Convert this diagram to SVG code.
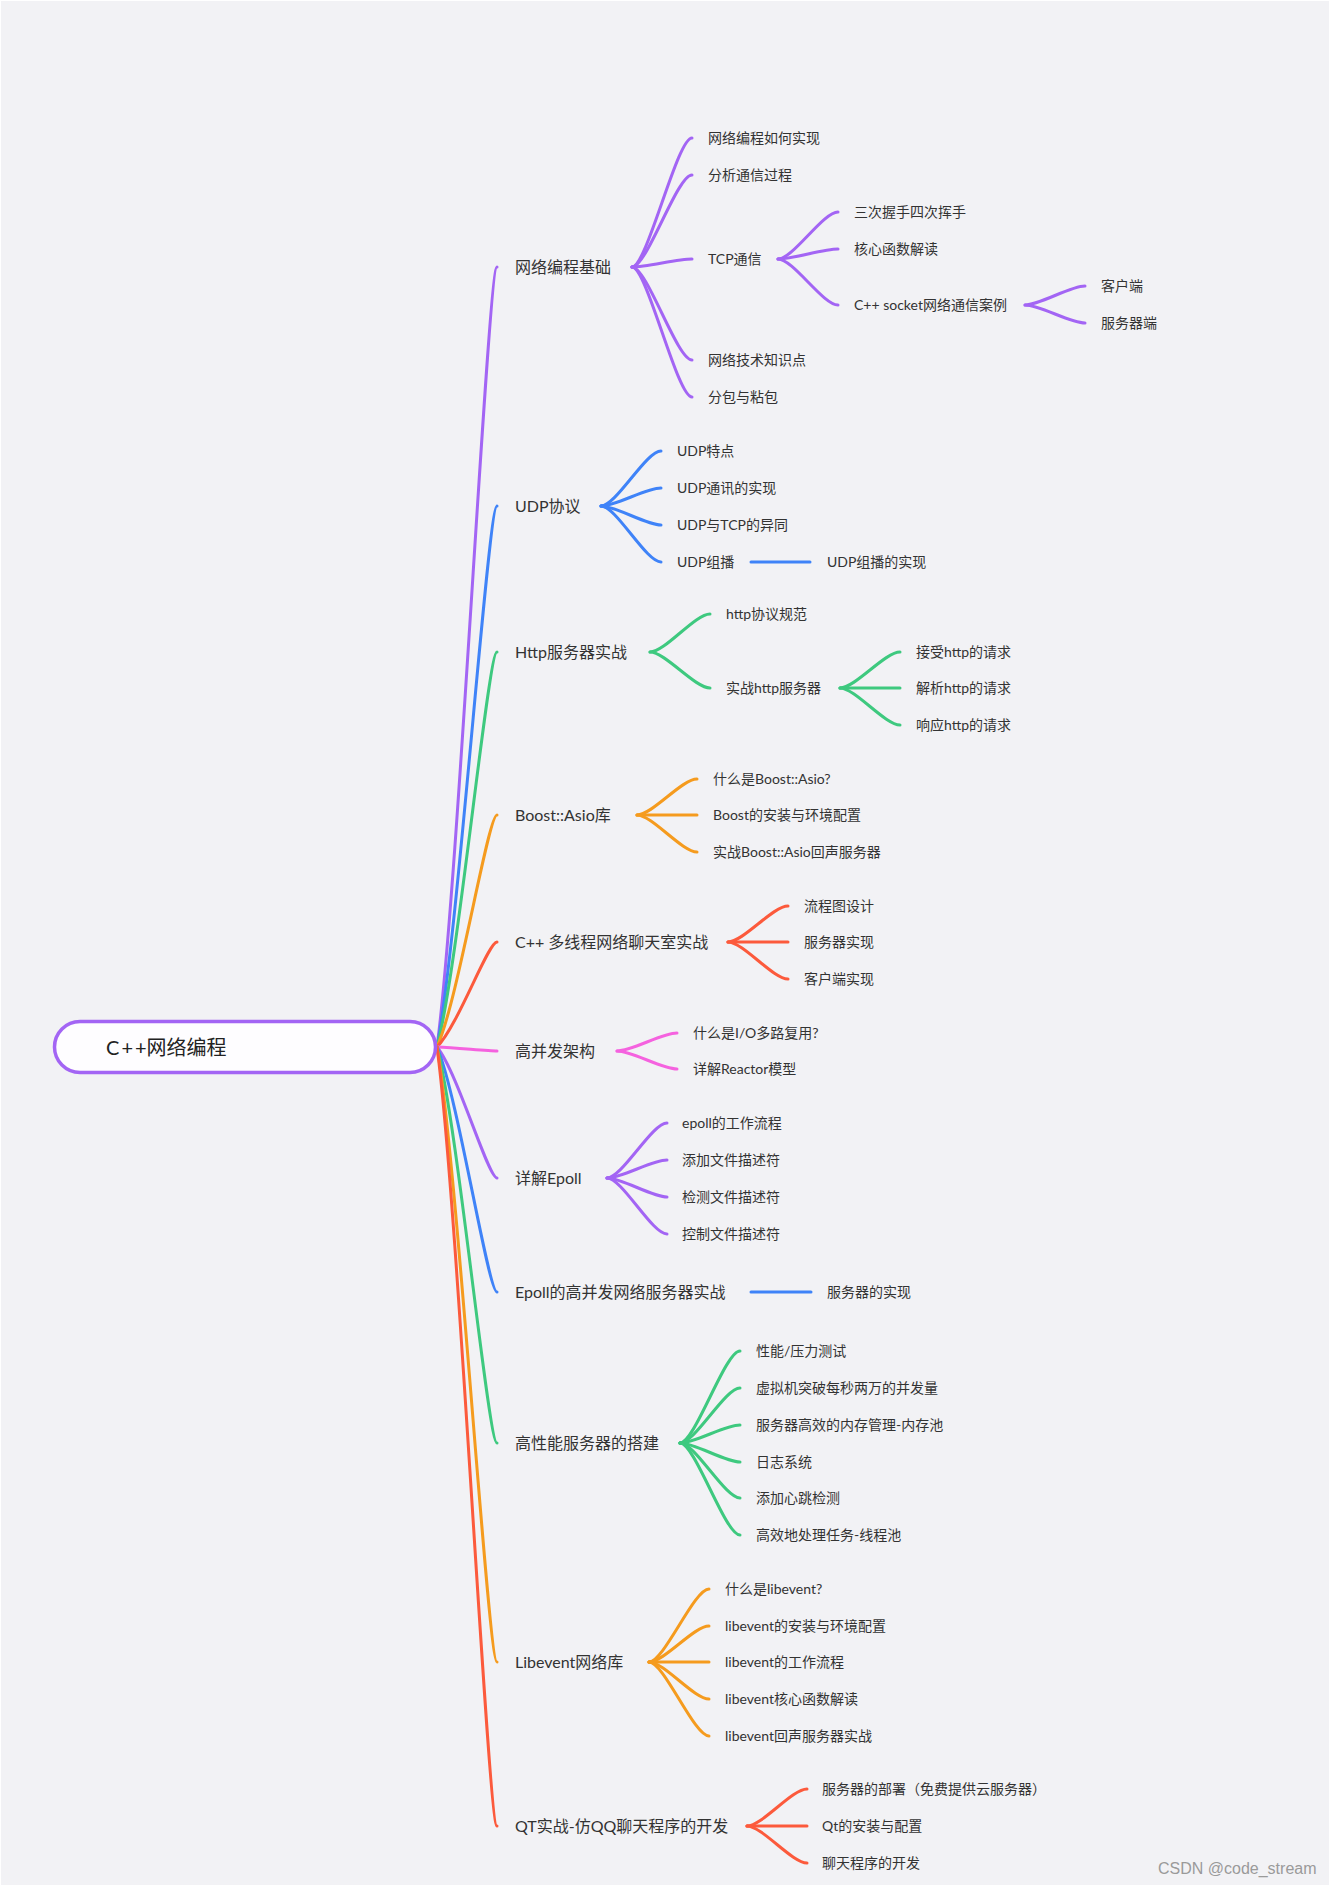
<svg xmlns="http://www.w3.org/2000/svg" width="1330" height="1887" viewBox="0 0 1330 1887">
<style>
.l{fill:none;stroke-width:3;stroke-linecap:round;stroke-linejoin:round}
.cp{stroke:#a365f4}.cb{stroke:#3f83f8}.cg{stroke:#3ec97f}.co{stroke:#f59b1e}.cr{stroke:#fc5a3c}.ck{stroke:#f562df}
text{font-family:Lato,"Noto Sans CJK SC",sans-serif;fill:#333}
.t1{font-size:16px}
.t2{font-size:14px}
.root{font-size:20px;fill:#222}
.wm{font-family:"Liberation Sans",Arial,sans-serif;font-size:16px;fill:#9a9a9a}
</style>
<rect x="0" y="0" width="1330" height="1887" fill="#ffffff"/>
<rect x="1" y="1" width="1328" height="1884" fill="#f2f2f5"/>

<g id="connectors">
  <g id="main-branches">
    <path class="l cp" d="M437,1047 C458,891 488,267 497,267"/>
    <path class="l cb" d="M437,1047 C458,939 488,506 497,506"/>
    <path class="l cg" d="M437,1047 C458,968 488,652 497,652"/>
    <path class="l co" d="M437,1047 C458,1001 488,815 497,815"/>
    <path class="l cr" d="M437,1047 C458,1026 488,942 497,942"/>
    <path class="l ck" d="M437,1047 C458,1048 488,1051 497,1051"/>
    <path class="l cp" d="M437,1047 C458,1073 488,1178 497,1178"/>
    <path class="l cb" d="M437,1047 C458,1096 488,1292 497,1292"/>
    <path class="l cg" d="M437,1047 C458,1126 488,1443 497,1443"/>
    <path class="l co" d="M437,1047 C458,1170 488,1662 497,1662"/>
    <path class="l cr" d="M437,1047 C458,1203 488,1826 497,1826"/>
  </g>
  <g id="sub-branches">
    <path class="l cp" d="M632,267 C647,267 677,138 692,138"/>
    <path class="l cp" d="M632,267 C647,267 677,175 692,175"/>
    <path class="l cp" d="M632,267 C647,267 677,259 692,259"/>
    <path class="l cp" d="M632,267 C647,267 677,360 692,360"/>
    <path class="l cp" d="M632,267 C647,267 677,397 692,397"/>
    <path class="l cp" d="M778,259 C793,259 823,212 838,212"/>
    <path class="l cp" d="M778,259 C793,259 823,249 838,249"/>
    <path class="l cp" d="M778,259 C793,259 823,305 838,305"/>
    <path class="l cp" d="M1025,305 C1040,305 1070,286 1085,286"/>
    <path class="l cp" d="M1025,305 C1040,305 1070,323 1085,323"/>

    <path class="l cb" d="M601,506 C616,506 646,451 661,451"/>
    <path class="l cb" d="M601,506 C616,506 646,488 661,488"/>
    <path class="l cb" d="M601,506 C616,506 646,525 661,525"/>
    <path class="l cb" d="M601,506 C616,506 646,562 661,562"/>
    <path class="l cb" d="M751,562 L810,562"/>

    <path class="l cg" d="M650,652 C665,652 695,614 710,614"/>
    <path class="l cg" d="M650,652 C665,652 695,688 710,688"/>
    <path class="l cg" d="M840,688 C855,688 885,652 900,652"/>
    <path class="l cg" d="M840,688 L900,688"/>
    <path class="l cg" d="M840,688 C855,688 885,725 900,725"/>

    <path class="l co" d="M637,815 C652,815 682,779 697,779"/>
    <path class="l co" d="M637,815 L697,815"/>
    <path class="l co" d="M637,815 C652,815 682,852 697,852"/>

    <path class="l cr" d="M728,942 C743,942 773,906 788,906"/>
    <path class="l cr" d="M728,942 L788,942"/>
    <path class="l cr" d="M728,942 C743,942 773,979 788,979"/>

    <path class="l ck" d="M617,1051 C632,1051 662,1033 677,1033"/>
    <path class="l ck" d="M617,1051 C632,1051 662,1069 677,1069"/>

    <path class="l cp" d="M607,1178 C622,1178 652,1123 667,1123"/>
    <path class="l cp" d="M607,1178 C622,1178 652,1160 667,1160"/>
    <path class="l cp" d="M607,1178 C622,1178 652,1197 667,1197"/>
    <path class="l cp" d="M607,1178 C622,1178 652,1234 667,1234"/>

    <path class="l cb" d="M751,1292 L811,1292"/>

    <path class="l cg" d="M680,1443 C695,1443 725,1351 740,1351"/>
    <path class="l cg" d="M680,1443 C695,1443 725,1388 740,1388"/>
    <path class="l cg" d="M680,1443 C695,1443 725,1425 740,1425"/>
    <path class="l cg" d="M680,1443 C695,1443 725,1462 740,1462"/>
    <path class="l cg" d="M680,1443 C695,1443 725,1498 740,1498"/>
    <path class="l cg" d="M680,1443 C695,1443 725,1535 740,1535"/>

    <path class="l co" d="M649,1662 C664,1662 694,1589 709,1589"/>
    <path class="l co" d="M649,1662 C664,1662 694,1626 709,1626"/>
    <path class="l co" d="M649,1662 L709,1662"/>
    <path class="l co" d="M649,1662 C664,1662 694,1699 709,1699"/>
    <path class="l co" d="M649,1662 C664,1662 694,1736 709,1736"/>

    <path class="l cr" d="M747,1826 C762,1826 792,1789 807,1789"/>
    <path class="l cr" d="M747,1826 L807,1826"/>
    <path class="l cr" d="M747,1826 C762,1826 792,1863 807,1863"/>
  </g>
</g>

<g id="root">
  <rect x="54.5" y="1021.5" width="381" height="51" rx="25.5" fill="#fefdff" stroke="#a365f4" stroke-width="3.5"/>
  <text class="root" x="106" y="1055">C<tspan dx="2">+</tspan><tspan dx="2">+</tspan>网络编程</text>
</g>

<g id="n-basics"><text class="t1" x="515" y="273">网络编程基础</text></g>
<g id="n-basics-1"><text class="t2" x="708" y="143">网络编程如何实现</text></g>
<g id="n-basics-2"><text class="t2" x="708" y="180">分析通信过程</text></g>
<g id="n-tcp"><text class="t2" x="708" y="264">TCP通信</text></g>
<g id="n-tcp-1"><text class="t2" x="854" y="217">三次握手四次挥手</text></g>
<g id="n-tcp-2"><text class="t2" x="854" y="254">核心函数解读</text></g>
<g id="n-socket"><text class="t2" x="854" y="310">C++ socket网络通信案例</text></g>
<g id="n-socket-1"><text class="t2" x="1101" y="291">客户端</text></g>
<g id="n-socket-2"><text class="t2" x="1101" y="328">服务器端</text></g>
<g id="n-basics-4"><text class="t2" x="708" y="365">网络技术知识点</text></g>
<g id="n-basics-5"><text class="t2" x="708" y="402">分包与粘包</text></g>

<g id="n-udp"><text class="t1" x="515" y="512">UDP协议</text></g>
<g id="n-udp-1"><text class="t2" x="677" y="456">UDP特点</text></g>
<g id="n-udp-2"><text class="t2" x="677" y="493">UDP通讯的实现</text></g>
<g id="n-udp-3"><text class="t2" x="677" y="530">UDP与TCP的异同</text></g>
<g id="n-udp-4"><text class="t2" x="677" y="567">UDP组播</text></g>
<g id="n-udp-4-1"><text class="t2" x="827" y="567">UDP组播的实现</text></g>

<g id="n-http"><text class="t1" x="515" y="658">Http服务器实战</text></g>
<g id="n-http-1"><text class="t2" x="726" y="619">http协议规范</text></g>
<g id="n-http-2"><text class="t2" x="726" y="693">实战http服务器</text></g>
<g id="n-http-2-1"><text class="t2" x="916" y="657">接受http的请求</text></g>
<g id="n-http-2-2"><text class="t2" x="916" y="693">解析http的请求</text></g>
<g id="n-http-2-3"><text class="t2" x="916" y="730">响应http的请求</text></g>

<g id="n-boost"><text class="t1" x="515" y="821">Boost::Asio库</text></g>
<g id="n-boost-1"><text class="t2" x="713" y="784">什么是Boost::Asio?</text></g>
<g id="n-boost-2"><text class="t2" x="713" y="820">Boost的安装与环境配置</text></g>
<g id="n-boost-3"><text class="t2" x="713" y="857">实战Boost::Asio回声服务器</text></g>

<g id="n-chat"><text class="t1" x="515" y="948">C++ 多线程网络聊天室实战</text></g>
<g id="n-chat-1"><text class="t2" x="804" y="911">流程图设计</text></g>
<g id="n-chat-2"><text class="t2" x="804" y="947">服务器实现</text></g>
<g id="n-chat-3"><text class="t2" x="804" y="984">客户端实现</text></g>

<g id="n-arch"><text class="t1" x="515" y="1057">高并发架构</text></g>
<g id="n-arch-1"><text class="t2" x="693" y="1038">什么是I/O多路复用?</text></g>
<g id="n-arch-2"><text class="t2" x="693" y="1074">详解Reactor模型</text></g>

<g id="n-epoll"><text class="t1" x="515" y="1184">详解Epoll</text></g>
<g id="n-epoll-1"><text class="t2" x="682" y="1128">epoll的工作流程</text></g>
<g id="n-epoll-2"><text class="t2" x="682" y="1165">添加文件描述符</text></g>
<g id="n-epoll-3"><text class="t2" x="682" y="1202">检测文件描述符</text></g>
<g id="n-epoll-4"><text class="t2" x="682" y="1239">控制文件描述符</text></g>

<g id="n-epoll-server"><text class="t1" x="515" y="1298">Epoll的高并发网络服务器实战</text></g>
<g id="n-epoll-server-1"><text class="t2" x="827" y="1297">服务器的实现</text></g>

<g id="n-perf"><text class="t1" x="515" y="1449">高性能服务器的搭建</text></g>
<g id="n-perf-1"><text class="t2" x="756" y="1356">性能/压力测试</text></g>
<g id="n-perf-2"><text class="t2" x="756" y="1393">虚拟机突破每秒两万的并发量</text></g>
<g id="n-perf-3"><text class="t2" x="756" y="1430">服务器高效的内存管理-内存池</text></g>
<g id="n-perf-4"><text class="t2" x="756" y="1467">日志系统</text></g>
<g id="n-perf-5"><text class="t2" x="756" y="1503">添加心跳检测</text></g>
<g id="n-perf-6"><text class="t2" x="756" y="1540">高效地处理任务-线程池</text></g>

<g id="n-libevent"><text class="t1" x="515" y="1668">Libevent网络库</text></g>
<g id="n-libevent-1"><text class="t2" x="725" y="1594">什么是libevent?</text></g>
<g id="n-libevent-2"><text class="t2" x="725" y="1631">libevent的安装与环境配置</text></g>
<g id="n-libevent-3"><text class="t2" x="725" y="1667">libevent的工作流程</text></g>
<g id="n-libevent-4"><text class="t2" x="725" y="1704">libevent核心函数解读</text></g>
<g id="n-libevent-5"><text class="t2" x="725" y="1741">libevent回声服务器实战</text></g>

<g id="n-qt"><text class="t1" x="515" y="1832">QT实战-仿QQ聊天程序的开发</text></g>
<g id="n-qt-1"><text class="t2" x="822" y="1794">服务器的部署（免费提供云服务器）</text></g>
<g id="n-qt-2"><text class="t2" x="822" y="1831">Qt的安装与配置</text></g>
<g id="n-qt-3"><text class="t2" x="822" y="1868">聊天程序的开发</text></g>

<text class="wm" x="1158" y="1874">CSDN @code_stream</text>
</svg>
